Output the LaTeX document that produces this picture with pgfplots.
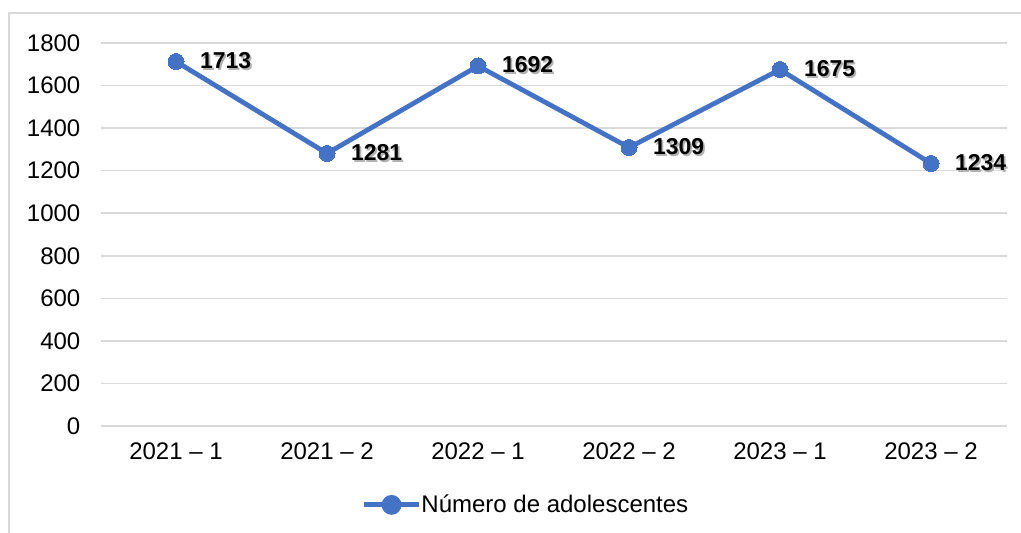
\documentclass[border=0pt]{standalone}
\usepackage{pgfplots}
\pgfplotsset{compat=1.18}
\usepackage{fontspec}
\setmainfont{Liberation Sans}
\definecolor{lblue}{HTML}{4472C4}
\definecolor{gridc}{HTML}{D9D9D9}
\newcommand\f{\fontsize{24}{28}\selectfont}
\newcommand\fl{\fontsize{23}{27}\selectfont}
\newcommand\shadowtext[1]{\rlap{\hspace{1.8pt}\raisebox{-1.8pt}{\textcolor{black!30}{#1}}}#1}
\begin{document}
\begin{tikzpicture}[font=\f]
\useasboundingbox (0pt,0pt) rectangle (1021pt,533pt);
\draw[gridc, line width=1.5pt] (9pt,-20pt) -- (9pt,520pt) -- (1040pt,520pt);
\begin{axis}[
  at={(100.5pt,107pt)}, anchor=south west,
  scale only axis, width=906pt, height=383pt,
  xmin=-0.5, xmax=5.5, ymin=0, ymax=1800,
  xtick=data,
  xticklabels={2021 -- 1,2021 -- 2,2022 -- 1,2022 -- 2,2023 -- 1,2023 -- 2},
  ytick={0,200,...,1800},
  major tick length=0pt,
  axis line style={draw=none},
  ymajorgrids, grid style={gridc, line width=1.5pt},
  /pgf/number format/assume math mode=true,
  /pgf/number format/1000 sep={},
  yticklabel style={inner sep=0pt, anchor=east, xshift=-20pt, font=\f},
  xticklabel style={inner sep=0pt, anchor=north, yshift=-17pt, font=\f},
  legend style={at={(0.4685,-0.206)}, anchor=center, draw=none, fill=none, font=\f, inner sep=0pt,
    nodes={inner sep=0pt},
    /tikz/every even column/.append style={column sep=6pt}},
  legend image code/.code={\draw[#1] (0pt,0pt) -- (55pt,0pt); \fill[lblue] (27.5pt,0pt) circle (7.5pt);},
  clip=false,
]
\addplot[lblue, line width=4.8pt, mark=*, mark size=8pt, mark options={solid, fill=lblue, draw=lblue, line width=0pt},
  nodes near coords={\shadowtext{\textbf{\pgfmathprintnumber{\pgfplotspointmeta}}}},
  every node near coord/.append style={anchor=west, inner sep=0pt, xshift=24pt, font=\fl, text=black}]
coordinates {(0,1713) (1,1281) (2,1692) (3,1309) (4,1675) (5,1234)};
\addlegendentry{Número de adolescentes}
\end{axis}
\end{tikzpicture}
\end{document}
